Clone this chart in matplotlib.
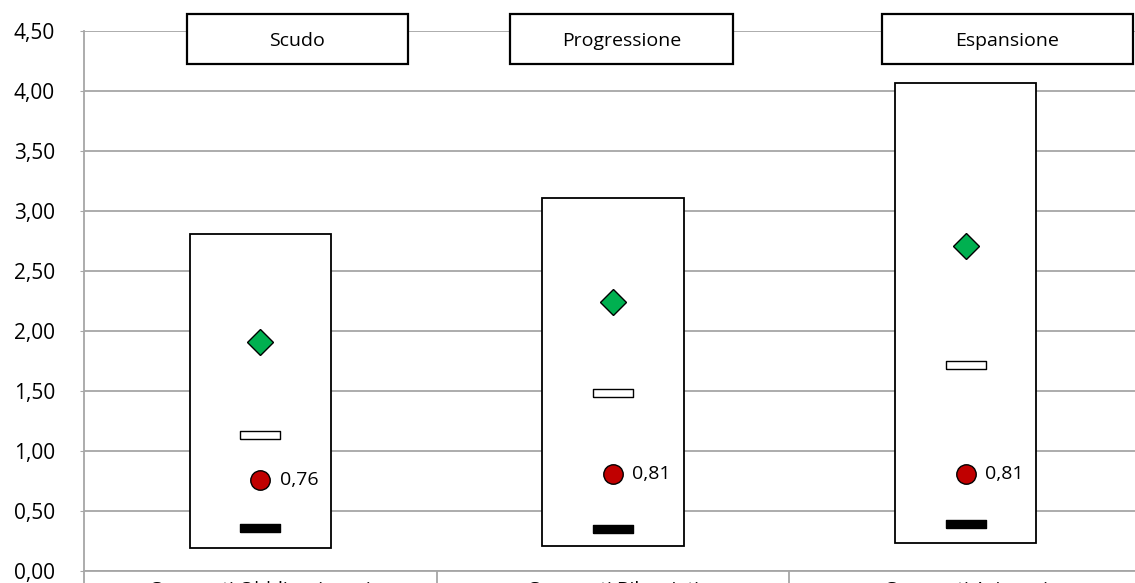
import matplotlib.pyplot as plt
from matplotlib.patches import Rectangle

plt.rcParams["font.family"] = ["Open Sans", "DejaVu Sans"]

categories = ["Comparti Obbligazionari", "Comparti Bilanciati", "Comparti Azionari"]
profiles = ["Scudo", "Progressione", "Espansione"]
range_low = [0.19, 0.21, 0.23]
range_high = [2.81, 3.11, 4.07]
best = [1.91, 2.24, 2.71]
mean_val = [1.13, 1.48, 1.72]
median_val = [0.76, 0.81, 0.81]
worst = [0.36, 0.35, 0.39]
yticks = [0.0, 0.5, 1.0, 1.5, 2.0, 2.5, 3.0, 3.5, 4.0, 4.5]

W, H = 1135, 583
fig = plt.figure(figsize=(W / 100, H / 100), dpi=100)
ax = fig.add_axes([84 / W, 12 / H, (1142 - 84) / W, 540 / H])

grid_c = "#a6a6a6"
xs = [i + 0.5 for i in range(len(categories))]

for x, lo, hi in zip(xs, range_low, range_high):
    ax.add_patch(Rectangle((x - 0.2, lo), 0.4, hi - lo, facecolor="white",
                           edgecolor="black", lw=1.3, zorder=3))

dash = [(-2.5, -0.5), (2.5, -0.5), (2.5, 0.5), (-2.5, 0.5), (-2.5, -0.5)]
ax.plot(xs, best, ls="none", marker="D", ms=13, mfc="#00b050", mec="black",
        mew=1.0, zorder=4)
ax.plot(xs, mean_val, ls="none", marker=dash, ms=29, mfc="white", mec="black",
        mew=1.0, zorder=4)
ax.plot(xs, median_val, ls="none", marker="o", ms=14, mfc="#c00000", mec="black",
        mew=1.0, zorder=4)
ax.plot(xs, worst, ls="none", marker=dash, ms=29, mfc="black", mec="black",
        mew=1.0, zorder=4)

for x, v in zip(xs, median_val):
    ax.annotate(f"{v:.2f}".replace(".", ","), (x, v), xytext=(14, 0),
                textcoords="offset points", ha="left", va="center", fontsize=14,
                zorder=5)

ax.set_xlim(0, 3)
ax.set_ylim(0, 4.5)
ax.set_yticks(yticks)
ax.set_yticklabels([f"{t:.2f}".replace(".", ",") for t in yticks], fontsize=15)
ax.yaxis.grid(True, color=grid_c, lw=1.3)
ax.set_axisbelow(True)
ax.tick_params(axis="y", length=3, color=grid_c, pad=18)
ax.set_xticks([])
for s in ["top", "right"]:
    ax.spines[s].set_visible(False)
for s in ["left", "bottom"]:
    ax.spines[s].set_color(grid_c)
    ax.spines[s].set_linewidth(1.3)

# category separators and labels below the axis
for b in range(len(categories) + 1):
    ax.plot([b, b], [0, -0.3], color=grid_c, lw=1.3, clip_on=False)
for x, c in zip(xs, categories):
    ax.text(x, -0.08, c, ha="center", va="top", fontsize=14, clip_on=False)

# profile name boxes at the top
title_boxes = [(187, 408), (510, 733), (882, 1133)]
for (x0, x1), name in zip(title_boxes, profiles):
    y0, y1 = 14, 64
    fig.add_artist(Rectangle((x0 / W, 1 - y1 / H), (x1 - x0) / W, (y1 - y0) / H,
                             transform=fig.transFigure, facecolor="white",
                             edgecolor="black", lw=1.6, zorder=10))
    fig.text((x0 + x1) / 2 / W, 1 - (y0 + y1) / 2 / H - 0.004, name,
             ha="center", va="center", fontsize=14, zorder=11)

fig.savefig("out.png", dpi=100)
